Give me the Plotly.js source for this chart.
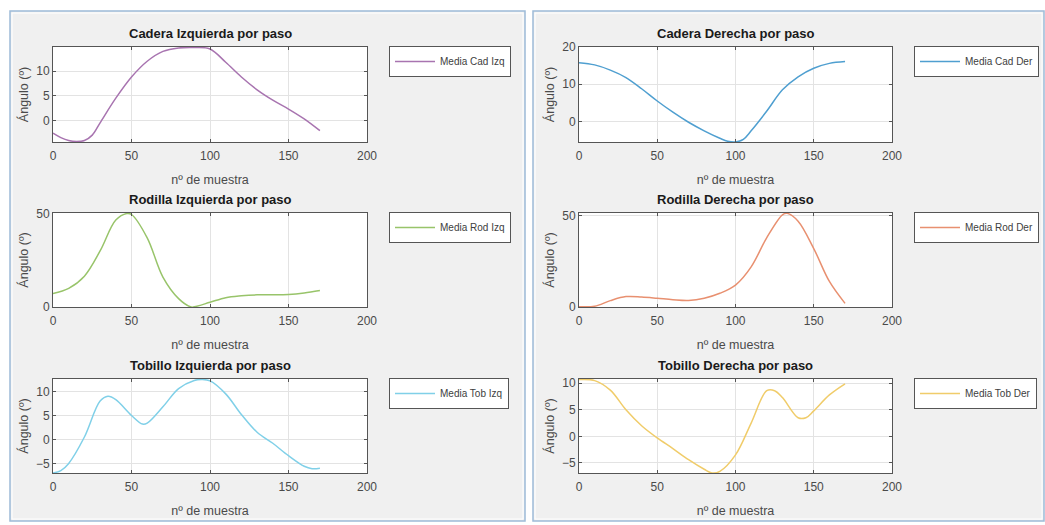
<!DOCTYPE html>
<html>
<head>
<meta charset="utf-8">
<script src="https://cdn.plot.ly/plotly-3.0.1.min.js"></script>
<style>html,body{margin:0;padding:0;background:#fff;}#chart{width:1045px;height:525px;}</style>
</head>
<body>
<div id="chart"></div>
<script>
// ---- data ----
const titles = ["Cadera Izquierda por paso","Cadera Derecha por paso","Rodilla Izquierda por paso","Rodilla Derecha por paso","Tobillo Izquierda por paso","Tobillo Derecha por paso"];
const seriesNames = ["Media Cad Izq","Media Cad Der","Media Rod Izq","Media Rod Der","Media Tob Izq","Media Tob Der"];
const xLabel = "nº de muestra";
const yLabel = "Ángulo (º)";

const xCadIzq = [0,5,10,15,20,25,30,40,50,60,70,80,90,100,110,120,130,140,150,160,170];
const yCadIzq = [-2.6,-3.5,-4.1,-4.3,-4.1,-3.0,-0.5,4.5,8.8,12.0,14.0,14.7,14.8,14.5,11.8,8.8,6.2,4.1,2.3,0.3,-2.1];

const xCadDer = [0,10,20,30,40,50,60,70,80,90,95,100,105,110,120,130,140,150,160,170];
const yCadDer = [15.8,15.2,13.8,11.8,8.8,5.5,2.5,-0.2,-2.5,-4.5,-5.3,-5.5,-4.8,-2.5,2.8,8.5,12.0,14.3,15.6,16.1];

const xRodIzq = [0,10,20,30,40,47,50,60,70,80,88,90,100,110,120,130,140,150,160,170];
const yRodIzq = [7.2,10,16.5,30,46.5,50,49.5,37,16,4.5,0,0.1,2.5,5,6,6.5,6.5,6.7,7.5,8.8];

const xRodDer = [0,10,20,30,40,50,60,70,80,90,100,110,120,130,133,140,150,160,170];
const yRodDer = [0.2,0.4,3.5,5.7,5.5,4.8,4.0,3.6,4.8,7.5,12,22,38,50.5,51.3,47,32,14,2];

const xTobIzq = [0,5,10,20,30,35,40,50,57,60,70,80,90,95,100,110,120,130,140,150,160,165,170];
const yTobIzq = [-7.0,-6.5,-5.0,0.5,8.0,9.0,8.3,5.0,3.2,3.4,6.8,10.6,12.3,12.5,12.2,9.5,5.2,1.5,-0.8,-3.4,-5.6,-6.1,-6.0];

const xTobDer = [0,10,20,30,40,50,60,70,80,85,90,100,110,120,125,130,140,145,150,160,170];
const yTobDer = [10.7,10.5,8.7,5.0,2.0,-0.3,-2.3,-4.4,-6.2,-6.9,-6.6,-3.5,2.5,8.6,8.6,7.3,3.5,3.5,4.8,7.8,9.9];

const xRange = [0,200];
const yRanges = [[-4.4,14.9],[-5.5,20],[0,50.3],[0,51.5],[-7.0,12.6],[-6.9,10.8]];
const yDticks = [5,10,50,50,5,5];

const colors = ["#a874b0","#4f9fd0","#98c46a","#e89070","#80d0e8","#f0cc6a"];

// ---- layout geometry (pixels) ----
const W = 1045, H = 525;
const fx = v => v / W, fy = v => 1 - v / H;
const rows = [[47,142],[213,307],[379,473]];
const cols = [[53,367],[579,892]];
const legX = [389, 914];

const xs = [xCadIzq,xCadDer,xRodIzq,xRodDer,xTobIzq,xTobDer];
const ys = [yCadIzq,yCadDer,yRodIzq,yRodDer,yTobIzq,yTobDer];

const font = "Liberation Sans, Arial, Helvetica, sans-serif";
const traces = [];
const layout = {
  width: W, height: H,
  margin: {l:0,r:0,t:0,b:0},
  paper_bgcolor: "#ffffff",
  plot_bgcolor: "#ffffff",
  font: {family: font, size: 12, color: "#404040"},
  showlegend: true,
  shapes: [
    {type:"rect", xref:"paper", yref:"paper", x0:fx(10), x1:fx(525), y0:fy(521), y1:fy(11), fillcolor:"#f0f0f0", line:{color:"#9dbbd8", width:1.5}, layer:"below"},
    {type:"rect", xref:"paper", yref:"paper", x0:fx(533), x1:fx(1044), y0:fy(521), y1:fy(11), fillcolor:"#f0f0f0", line:{color:"#9dbbd8", width:1.5}, layer:"below"},
    {type:"rect", xref:"paper", yref:"paper", x0:fx(12), x1:fx(523), y0:fy(519), y1:fy(13), fillcolor:"rgba(0,0,0,0)", line:{color:"#ffffff", width:1}, layer:"below"},
    {type:"rect", xref:"paper", yref:"paper", x0:fx(535), x1:fx(1042), y0:fy(519), y1:fy(13), fillcolor:"rgba(0,0,0,0)", line:{color:"#ffffff", width:1}, layer:"below"}
  ],
  annotations: []
};

for (let i = 0; i < 6; i++) {
  const r = Math.floor(i / 2), c = i % 2;
  const n = i === 0 ? "" : String(i + 1);
  traces.push({
    type: "scatter", mode: "lines",
    x: xs[i], y: ys[i],
    name: seriesNames[i],
    xaxis: "x" + n, yaxis: "y" + n,
    legend: "legend" + n,
    line: {color: colors[i], width: 1.5, shape: "spline", smoothing: 1.0}
  });
  // white plotting area over the grey panel
  layout.shapes.push({type:"rect", xref:"paper", yref:"paper",
    x0: fx(cols[c][0]), x1: fx(cols[c][1]), y0: fy(rows[r][1]), y1: fy(rows[r][0]),
    fillcolor:"#ffffff", line:{width:0}, layer:"below"});
  layout["xaxis" + n] = {
    domain: [fx(cols[c][0]), fx(cols[c][1])],
    anchor: "y" + n,
    range: xRange, dtick: 50, tick0: 0,
    showgrid: true, gridcolor: "#e3e3e3", gridwidth: 1,
    zeroline: false,
    showline: true, linecolor: "#555555", linewidth: 1, mirror: "ticks",
    ticks: "inside", ticklen: 3, tickcolor: "#555555",
    ticklabelstandoff: 3,
    tickfont: {family: font, size: 12, color: "#4a4a4a"},
    title: {text: xLabel, font: {family: font, size: 12.5, color: "#4a4a4a"}, standoff: 12},
    fixedrange: true
  };
  layout["yaxis" + n] = {
    domain: [fy(rows[r][1]), fy(rows[r][0])],
    anchor: "x" + n,
    range: yRanges[i], dtick: yDticks[i], tick0: 0,
    showgrid: true, gridcolor: "#e3e3e3", gridwidth: 1,
    zeroline: false,
    showline: true, linecolor: "#555555", linewidth: 1, mirror: "ticks",
    ticks: "inside", ticklen: 3, tickcolor: "#555555",
    tickfont: {family: font, size: 12, color: "#4a4a4a"},
    title: {text: yLabel, font: {family: font, size: 12.5, color: "#4a4a4a"}, standoff: 4},
    fixedrange: true
  };
  layout["legend" + n] = {
    x: fx(legX[c]), y: fy(rows[r][0] - 1), xanchor: "left", yanchor: "top",
    xref: "paper", yref: "paper",
    bgcolor: "#ffffff", bordercolor: "#555555", borderwidth: 1,
    font: {family: font, size: 10, color: "#404040"},
    itemwidth: 40, tracegroupgap: 0
  };
  layout.annotations.push({
    xref: "paper", yref: "paper",
    x: fx((cols[c][0] + cols[c][1]) / 2), y: fy(rows[r][0] - 4),
    xanchor: "center", yanchor: "bottom",
    text: "<b>" + titles[i] + "</b>", showarrow: false,
    font: {family: font, size: 13, color: "#1a1a1a"}
  });
}

Plotly.newPlot("chart", traces, layout, {staticPlot: true, displayModeBar: false});
</script>
</body>
</html>
